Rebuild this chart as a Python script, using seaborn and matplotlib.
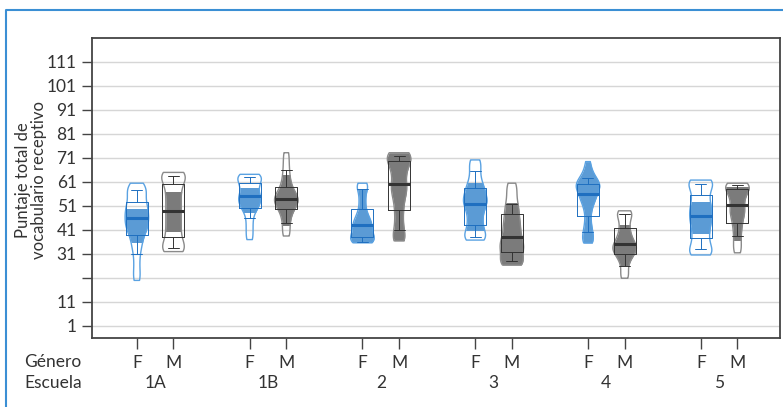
import numpy as np
import pandas as pd
import matplotlib
matplotlib.use("Agg")
import matplotlib.pyplot as plt
import matplotlib.transforms as mtransforms
from matplotlib.lines import Line2D
from matplotlib.patches import Rectangle
import seaborn as sns

escuelas = ["1A", "1B", "2", "3", "4", "5"]
generos = ["F", "M"]

# puntajes (aprox.)
f_1A = [20, 23, 27, 31, 34, 36, 38, 40, 41, 42, 43, 44, 45, 46, 47, 48, 49, 50, 51, 52,
        53.5, 55, 56.5, 57.5, 58.5, 59.5, 60.5]
m_1A = [32, 32.3, 32.8, 33.5, 35, 37, 39, 41, 43, 45, 47, 49, 51, 53, 55, 57, 59, 61,
        62.5, 63.5, 64.2, 64.7, 65]
f_1B = [37, 40, 43, 46, 48.5, 50, 51, 52, 53, 54, 54.5, 55.5, 56.5, 58, 59, 60, 61, 62,
        63, 63.5, 64, 64.2]
m_1B = [38.5, 41, 44, 46.5, 48.5, 50, 51, 52, 53, 53.5, 54, 55, 56, 57, 58.5, 60.5, 63, 66, 69.5, 73.2]
f_2 = [35.7, 35.9, 36.2, 36.8, 37.5, 38.5, 39.5, 40.5, 41.5, 42.5, 43.5, 44.5, 45.5, 47, 49,
       52, 55, 58, 59.5, 60.5]
m_2 = [36.5, 37, 38.5, 41, 44, 47, 50, 52.5, 55, 57, 58, 59, 61, 63, 65, 66.5, 68, 69.5,
       70.5, 71.3, 72, 72.5, 72.9, 73.2]
f_3 = [36.8, 37.2, 38, 39, 41, 43, 45, 47, 49, 51, 52, 53, 54, 55.5, 57, 58.5, 60, 62.5,
       65.5, 68.5, 70.2]
m_3 = [26.4, 26.7, 27.2, 28, 30, 31.5, 33, 34, 35, 36, 37.5, 39, 41, 42.5, 44, 46, 48, 50,
       52, 55, 58, 60.5]
f_4 = [35.6, 36.5, 38, 40, 42, 45, 48.5, 51, 53, 54, 55, 56, 57.5, 58.5, 59, 59.5, 60,
       60.5, 61.5, 62.5, 64, 66, 69.5]
m_4 = [20.9, 23, 26, 28.5, 30, 31, 32, 33, 33.5, 34, 35, 36, 37, 38.5, 40, 42, 44, 46,
       47.5, 48.5, 49]
f_5 = [30.6, 31, 31.5, 33, 35, 37, 39, 41, 43, 44.5, 46, 47.5, 49, 50.5, 52, 54, 56, 58,
       60, 61, 61.4, 61.8]
m_5 = [31.5, 33.5, 36, 38.5, 41, 43, 45, 46.5, 48, 49, 50, 51.5, 53, 54.5, 55.5, 56.5,
       57.5, 58.5, 59.3, 59.7, 60, 60.2, 60.5]

# tramo relleno de cada violin (F, M por escuela)
relleno_min = [36.1, 40.7, 48.6, 43.0, 35.7, 36.5, 41.0, 26.4, 35.6, 26.4, 39.6, 36.8]
relleno_max = [49.7, 56.7, 58.5, 63.9, 57.7, 73.2, 60.5, 52.1, 69.5, 43.1, 52.8, 59.0]

y_ticks = [1, 11, 21, 31, 41, 51, 61, 71, 81, 91, 101, 111]
y_labels = ["1", "11", "", "31", "41", "51", "61", "71", "81", "91", "101", "111"]

grupos = [f_1A, m_1A, f_1B, m_1B, f_2, m_2, f_3, m_3, f_4, m_4, f_5, m_5]
filas = []
for k, vals in enumerate(grupos):
    for v in vals:
        filas.append({"escuela": escuelas[k // 2], "genero": generos[k % 2], "puntaje": v})
df = pd.DataFrame(filas)

sns.set_theme(style="white")
plt.rcParams["font.family"] = ["Lato", "DejaVu Sans"]
texto = "#333333"

fig = plt.figure(figsize=(7.83, 4.07), dpi=100)
ax = fig.add_axes([92 / 783, 1 - 338 / 407, 688 / 783, 300 / 407])

pal_relleno = {"F": "#5b9bd5", "M": "#7b7b7b"}
pal_borde = {"F": "#5aa2e2", "M": "#8a8a8a"}
pal_caja = {"F": "#1f6fc0", "M": "#333333"}

kw = dict(data=df, x="escuela", y="puntaje", hue="genero", order=escuelas,
          hue_order=generos, width=0.65, gap=0.36, cut=0, bw_adjust=0.5,
          density_norm="width", inner=None, legend=False, ax=ax)

# parte rellena, recortada al tramo de cada violin (seaborn dibuja escuela x genero en orden)
n0 = len(ax.collections)
sns.violinplot(**kw, fill=True, palette=pal_relleno, saturation=1, linewidth=0)
for k, coll in enumerate(ax.collections[n0:]):
    rect = Rectangle((k // 2 - 0.5, relleno_min[k]), 1, relleno_max[k] - relleno_min[k],
                     transform=ax.transData)
    coll.set_clip_path(rect)

sns.violinplot(**kw, fill=False, palette=pal_borde, linewidth=1)

sns.boxplot(data=df, x="escuela", y="puntaje", hue="genero", order=escuelas,
            hue_order=generos, width=0.65, gap=0.4, whis=(10, 90), showfliers=False,
            fill=False, palette=pal_caja, linewidth=0.7,
            medianprops=dict(linewidth=2.2), legend=False, ax=ax)

ax.set_xlim(-0.56, 5.54)
ax.set_ylim(-4, 121)
ax.set_yticks(y_ticks)
ax.set_yticklabels(y_labels)
pos_x = [i + d for i in range(len(escuelas)) for d in (-0.1625, 0.1625)]
ax.set_xticks(pos_x)
ax.set_xticklabels(generos * len(escuelas))
ax.set_xlabel("")
ax.set_ylabel("")
ax.yaxis.grid(True, color="#d6d6d6", linewidth=1)
ax.set_axisbelow(True)
for s in ax.spines.values():
    s.set_color("#444444")
    s.set_linewidth(1.3)
ax.tick_params(axis="y", length=7, width=1, color="#444444", pad=4,
               labelsize=12.5, labelcolor=texto, left=True)
ax.tick_params(axis="x", length=8, width=1, color="#444444", pad=4,
               labelsize=12.5, labelcolor=texto, bottom=True)

trans = mtransforms.blended_transform_factory(ax.transData, fig.transFigure)
for i, esc in enumerate(escuelas):
    ax.text(i, 1 - 383 / 407, esc, transform=trans, ha="center", va="center",
            fontsize=12.5, color=texto)
fig.text(24 / 783, 1 - 362 / 407, "Género", ha="left", va="center", fontsize=12.5, color=texto)
fig.text(24 / 783, 1 - 383 / 407, "Escuela", ha="left", va="center", fontsize=12.5, color=texto)
fig.text(31 / 783, 1 - 180 / 407, "Puntaje total de\nvocabulario receptivo", rotation=90,
         ha="center", va="center", fontsize=12, color=texto, linespacing=1.0)

fig.add_artist(Line2D([6 / 783, 6 / 783, 1], [0, 1 - 10 / 407, 1 - 10 / 407],
                      transform=fig.transFigure, color="#3b8fd4", linewidth=1.5))

fig.savefig("out.png", dpi=100)
